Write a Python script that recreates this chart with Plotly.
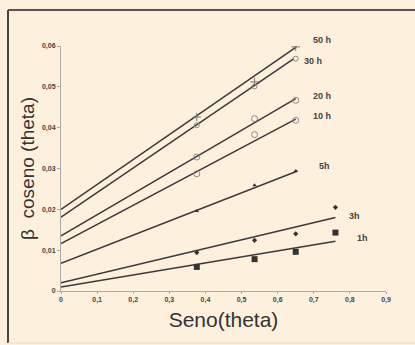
import plotly.graph_objects as go

series = ["50 h", "30 h", "20 h", "10 h", "5h", "3h", "1h"]
pts_x = [
    [0.376, 0.536, 0.650],
    [0.376, 0.536, 0.650],
    [0.376, 0.536, 0.650],
    [0.376, 0.536, 0.650],
    [0.376, 0.536, 0.650],
    [0.376, 0.536, 0.650, 0.760],
    [0.376, 0.536, 0.650, 0.760],
]
pts_y = [
    [0.0426, 0.0512, 0.0598],
    [0.0406, 0.0501, 0.0569],
    [0.0328, 0.0422, 0.0467],
    [0.0287, 0.0383, 0.0418],
    [0.0196, 0.0259, 0.0294],
    [0.0094, 0.0124, 0.0140, 0.0205],
    [0.0059, 0.0078, 0.0096, 0.0143],
]
fit_x_end = [0.652, 0.645, 0.650, 0.650, 0.655, 0.760, 0.760]
fit_y0 = [0.0200, 0.0181, 0.0135, 0.0116, 0.0068, 0.0020, 0.0010]
fit_y1 = [0.0598, 0.0569, 0.0471, 0.0421, 0.0294, 0.0180, 0.0122]
label_x = [0.724, 0.697, 0.724, 0.724, 0.729, 0.812, 0.835]
label_y = [0.0614, 0.0563, 0.0478, 0.0428, 0.0305, 0.0183, 0.0131]

markers = [
    dict(symbol="cross-thin", size=6, color="#777", line=dict(color="#777", width=1)),
    dict(symbol="circle-open", size=5, color="#888", line=dict(width=1)),
    dict(symbol="circle-open", size=6, color="#888", line=dict(width=1)),
    dict(symbol="circle-open", size=6, color="#888", line=dict(width=1)),
    dict(symbol="triangle-up", size=4, color="#333"),
    dict(symbol="diamond", size=4, color="#333"),
    dict(symbol="square", size=6, color="#333"),
]

x_ticks = [0, 0.1, 0.2, 0.3, 0.4, 0.5, 0.6, 0.7, 0.8, 0.9]
x_ticktext = ["0", "0,1", "0,2", "0,3", "0,4", "0,5", "0,6", "0,7", "0,8", "0,9"]
y_ticks = [0, 0.01, 0.02, 0.03, 0.04, 0.05, 0.06]
y_ticktext = ["0", "0,01", "0,02", "0,03", "0,04", "0,05", "0,06"]
y_max = 0.06

fig = go.Figure()
for i, name in enumerate(series):
    fig.add_trace(go.Scatter(x=[0, fit_x_end[i]], y=[fit_y0[i], fit_y1[i]], mode="lines",
                             line=dict(color="#3a3a3a", width=1.5), showlegend=False, hoverinfo="skip"))
    fig.add_trace(go.Scatter(x=pts_x[i], y=pts_y[i], mode="markers", marker=markers[i],
                             name=name, showlegend=False))
    fig.add_annotation(x=label_x[i], y=label_y[i] / y_max, xref="x", yref="y domain",
                       text="<b>%s</b>" % name, showarrow=False,
                       font=dict(size=9, color="#444", family="Arial"), xanchor="center", yanchor="middle")

bg = "#FDF0DC"
fig.update_layout(
    width=415, height=345,
    margin=dict(l=61, r=29, t=46, b=54),
    paper_bgcolor=bg, plot_bgcolor=bg,
    font=dict(family="Arial", color="#444"),
    xaxis=dict(range=[0, 0.9], tickvals=x_ticks, ticktext=["<b>%s</b>" % t for t in x_ticktext],
               showgrid=False, zeroline=False,
               showline=True, linecolor="#aaa", linewidth=1, ticks="outside", ticklen=2, tickcolor="#aaa",
               tickfont=dict(size=7, color="#444", family="Arial"),
               title=dict(text="Seno(theta)", font=dict(size=21, color="#333"), standoff=8)),
    yaxis=dict(range=[0, y_max], tickvals=y_ticks, ticktext=["<b>%s</b>" % t for t in y_ticktext],
               showgrid=False, zeroline=False,
               showline=True, linecolor="#aaa", linewidth=1, ticks="outside", ticklen=3, tickcolor="#aaa",
               tickfont=dict(size=7, color="#444", family="Arial"),
               title=dict(text="β  coseno (theta)", font=dict(size=19, color="#333"), standoff=2)),
)
fig.add_shape(type="line", xref="paper", yref="paper", x0=-53/325, x1=-53/325, y0=-52/245, y1=1+36/245,
              line=dict(color="#444", width=2))
fig.add_shape(type="line", xref="paper", yref="paper", x0=-53/325, x1=1+31/325, y0=1+36/245, y1=1+36/245,
              line=dict(color="#555", width=2))
fig.add_shape(type="line", xref="paper", yref="paper", x0=-53/325, x1=1+31/325, y0=-52/245, y1=-52/245,
              line=dict(color="#ddd", width=1))
fig.write_html("out.html")
